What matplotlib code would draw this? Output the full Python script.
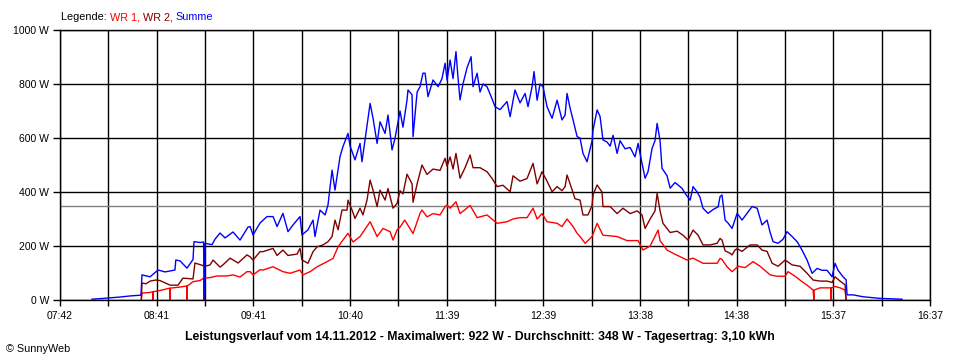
import matplotlib
matplotlib.use('Agg')
import matplotlib.pyplot as plt
import numpy as np

plt.rcParams['font.family'] = ['Liberation Sans', 'DejaVu Sans']

# Zeit in Minuten nach 07:42, Leistung in W
summe_t = [19.7, 24.6, 30.8, 36.9, 43.1, 49.8, 50.4, 55.4, 60.3, 64.6, 70.7, 71.2, 73.8, 78.1, 81.8, 82.4,
           86.1, 88.3, 88.6, 89.2, 93.5, 95.3, 98.4, 101.5, 106.4, 110.7, 115.6, 116.9, 118.7, 123.0, 127.3,
           131.0, 133.5, 137.1, 140.2, 143.3, 147.6, 148.8, 152.5, 155.6, 156.8, 159.9, 163.0, 164.8, 167.3,
           169.1, 170.4, 172.2, 174.0, 177.1, 178.4, 181.4, 184.5, 185.7, 187.6, 190.7, 192.5, 195.0, 196.8,
           199.9, 201.7, 204.2, 206.0, 209.1, 210.9, 213.4, 214.0, 216.5, 217.1, 219.6, 221.4, 223.2, 224.5,
           226.3, 229.4, 232.5, 234.9, 236.8, 238.0, 239.9, 241.7, 243.5, 244.8, 246.0, 247.8, 250.3, 252.8,
           254.0, 256.5, 258.3, 260.1, 262.6, 265.7, 267.5, 270.6, 274.9, 276.8, 279.8, 282.9, 286.0, 287.8,
           290.3, 291.5, 293.4, 295.2, 297.0, 299.5, 302.6, 305.7, 308.7, 310.6, 311.8, 313.7, 315.5, 318.0,
           319.8, 321.6, 324.1, 326.0, 327.2, 327.8, 330.3, 332.1, 333.9, 336.4, 338.3, 340.1, 342.6, 344.4,
           347.5, 350.6, 353.6, 355.5, 357.9, 359.8, 361.6, 364.1, 365.9, 367.2, 369.0, 370.2, 373.3, 375.2,
           378.2, 382.5, 384.4, 387.5, 389.3, 391.8, 393.6, 395.4, 398.5, 401.6, 404.7, 405.9, 407.1, 409.0,
           410.8, 413.3, 416.4, 419.4, 422.5, 425.6, 428.7, 431.7, 434.8, 436.7, 438.5, 441.6, 444.6, 447.1,
           450.2, 453.3, 456.3, 459.4, 462.5, 465.6, 468.6, 471.7, 474.8, 476.6, 478.5, 481.5, 483.4, 484.0,
           487.7, 493.8, 504.3, 517.8]
summe_w = [3, 5, 8, 11, 15, 18, 93, 86, 111, 104, 111, 148, 145, 118, 150, 216,
           213, 215, 0, 210, 205, 225, 248, 230, 252, 222, 270, 272, 241, 285, 309,
           309, 272, 321, 253, 278, 309, 241, 260, 296, 235, 333, 315, 352, 481,
           407, 460, 531, 568, 617, 570, 519, 580, 512, 593, 728, 673, 580, 660,
           617, 685, 556, 599, 700, 640, 741, 778, 760, 605, 770, 790, 840, 840,
           753, 815, 790, 820, 877, 815, 889, 820, 920, 820, 741, 800, 860, 901,
           790, 840, 770, 800, 790, 745, 716, 705, 735, 679, 778, 730, 765, 716,
           790, 846, 740, 800, 790, 716, 673, 740, 667, 685, 765, 710, 667, 605,
           600, 543, 512, 560, 590, 630, 704, 680, 593, 585, 570, 610, 543, 590,
           560, 565, 530, 580, 506, 451, 475, 562, 590, 654, 590, 488, 460, 414,
           435, 414, 395, 370, 420, 400, 380, 340, 321, 335, 345, 383, 389, 296,
           285, 265, 321, 296, 321, 346, 340, 278, 296, 250, 216, 210, 225, 253,
           235, 216, 185, 148, 99, 117, 110, 110, 86, 136, 110, 86, 75, 19,
           19, 12, 6, 3]

wr2_t = [50.0, 50.4, 52.9, 55.4, 59.0, 61.5, 67.7, 72.6, 75.6, 81.8, 83.0, 89.2, 92.3, 94.1, 98.4, 100.2,
         104.6, 109.5, 115.0, 116.9, 118.7, 123.0, 124.8, 131.0, 133.5, 137.1, 140.2, 145.8, 147.6, 148.8,
         152.5, 155.6, 158.1, 161.7, 164.8, 167.3, 169.1, 171.0, 173.4, 176.5, 177.1, 179.6, 181.4, 184.5,
         186.3, 188.8, 190.7, 192.5, 195.0, 196.8, 199.9, 201.7, 204.8, 207.3, 209.1, 210.9, 213.4, 215.3,
         216.5, 217.1, 219.6, 222.6, 225.7, 229.4, 233.7, 236.8, 238.0, 239.9, 241.7, 243.5, 246.0, 249.1,
         252.2, 254.0, 258.3, 262.6, 265.7, 268.8, 272.4, 276.8, 278.6, 282.9, 287.2, 290.9, 293.4, 296.4,
         299.5, 302.6, 305.7, 308.7, 310.6, 311.8, 313.7, 316.7, 319.8, 321.6, 324.7, 327.2, 327.8, 330.3,
         333.3, 333.9, 338.3, 342.6, 346.2, 350.6, 354.9, 357.9, 359.8, 362.9, 365.9, 367.2, 369.0, 370.8,
         375.2, 379.5, 383.1, 386.2, 389.3, 392.4, 395.4, 399.8, 404.1, 405.9, 407.1, 409.0, 412.1, 413.3,
         415.1, 416.4, 419.4, 424.4, 428.7, 431.7, 434.8, 437.9, 441.6, 445.9, 450.2, 455.1, 459.4, 463.1,
         467.4, 471.7, 474.8, 476.6, 479.7, 482.8, 483.4]
wr2_w = [0, 63, 60, 70, 74, 72, 55, 55, 81, 78, 137, 125, 130, 148, 122, 130,
         155, 137, 167, 160, 148, 179, 179, 191, 165, 185, 165, 170, 191, 148,
         136, 179, 197, 204, 216, 235, 296, 260, 333, 333, 370, 333, 302, 340,
         315, 370, 444, 407, 346, 407, 370, 413, 340, 358, 405, 393, 466, 444,
         430, 362, 430, 500, 465, 485, 480, 525, 495, 530, 485, 543, 451, 490,
         537, 490, 490, 475, 450, 420, 425, 401, 460, 440, 450, 506, 430, 475,
         440, 401, 420, 405, 420, 463, 430, 375, 370, 315, 315, 350, 390, 426,
         400, 346, 346, 320, 340, 320, 330, 315, 265, 300, 330, 395, 330, 284,
         250, 255, 240, 222, 259, 240, 204, 204, 210, 228, 222, 182, 173, 167,
         185, 190, 180, 204, 204, 185, 180, 136, 125, 148, 130, 125, 99, 74,
         70, 70, 65, 86, 70, 56, 0]

wr1_t = [50.0, 50.4, 55.4, 57.0, 57.2, 57.4, 61.5, 67.5, 67.7, 67.9, 73.8, 77.9, 78.1, 78.3, 81.8, 86.1,
         88.4, 88.6, 88.8, 92.3, 96.6, 102.7, 106.4, 110.7, 115.0, 116.9, 118.7, 123.0, 124.8, 131.0, 137.1,
         141.5, 147.6, 149.4, 153.8, 158.1, 164.2, 167.9, 171.0, 174.0, 177.1, 180.2, 184.5, 190.7, 195.0,
         198.6, 203.0, 204.8, 207.3, 209.1, 212.0, 217.1, 221.4, 222.6, 225.7, 229.4, 233.7, 236.8, 238.0,
         239.9, 243.5, 246.0, 252.2, 256.5, 262.6, 268.8, 274.9, 278.6, 282.9, 287.2, 290.9, 293.4, 296.4,
         299.5, 305.7, 308.7, 311.8, 315.5, 318.0, 319.8, 322.9, 327.2, 330.3, 333.9, 342.6, 348.7, 355.5,
         358.5, 362.9, 367.8, 369.0, 373.3, 377.0, 385.6, 389.3, 395.4, 404.1, 405.9, 407.1, 410.2, 413.3,
         417.0, 421.3, 426.2, 430.5, 436.7, 441.0, 445.9, 447.7, 452.0, 456.3, 459.4, 463.1, 463.6, 463.8,
         467.4, 474.0, 474.2, 474.4, 476.6, 479.7, 482.8, 483.4]
wr1_w = [0, 26, 28, 31, 0, 31, 35, 44, 0, 44, 48, 52, 0, 52, 68, 72,
         81, 0, 81, 83, 89, 89, 93, 85, 105, 105, 93, 112, 111, 123, 105,
         99, 111, 93, 105, 123, 142, 154, 197, 222, 247, 215, 235, 290, 235,
         265, 253, 222, 260, 270, 296, 246, 321, 333, 308, 320, 315, 346, 352,
         340, 364, 320, 350, 305, 315, 284, 290, 300, 305, 305, 340, 300, 320,
         290, 284, 272, 300, 272, 247, 235, 210, 235, 284, 240, 235, 220, 220,
         185, 200, 259, 220, 185, 173, 148, 155, 136, 136, 154, 150, 123, 105,
         125, 120, 142, 125, 93, 88, 88, 105, 88, 68, 55, 37, 0, 37,
         45, 45, 0, 45, 50, 45, 37, 0]

zeit_labels = ['07:42', '08:41', '09:41', '10:40', '11:39', '12:39', '13:38', '14:38', '15:37', '16:37']
durchschnitt = 348

fig = plt.figure(figsize=(9.6, 3.6), dpi=100)
ax = fig.add_axes([60 / 960, 60 / 360, 870 / 960, 270 / 360])

ax.plot(wr1_t, wr1_w, color='#ff0000', lw=1)
ax.plot(wr2_t, wr2_w, color='#800000', lw=1)
ax.plot(summe_t, summe_w, color='#0000ff', lw=1)
ax.axhline(durchschnitt, color='#808080', lw=1, zorder=1)

ax.set_xlim(0, 535)
ax.set_ylim(0, 1000)
ax.set_yticks(range(0, 1001, 200))
ax.set_yticklabels([f'{v} W' for v in range(0, 1001, 200)])
ticks = np.linspace(0, 535, 19)
labels = []
for i in range(19):
    labels.append(zeit_labels[i // 2] if i % 2 == 0 else '')
ax.set_xticks(ticks)
ax.set_xticklabels(labels)
ax.set_axisbelow(True)
ax.grid(color='black', lw=1)
for s in ax.spines.values():
    s.set_linewidth(1)
ax.tick_params(axis='y', direction='out', length=5, width=1, pad=3, labelsize=7.5)
ax.tick_params(axis='x', direction='out', length=4, width=1, pad=4, labelsize=7.5)

# Legende oben links, mehrfarbig
renderer = fig.canvas.get_renderer()
x = 61
for s, c in [('Legende: ', 'black'), ('WR 1, ', '#ff0000'), ('WR 2, ', '#800000'), ('Summe', '#0000ff')]:
    t = fig.text(x / 960, 1 - 17 / 360, s, color=c, fontsize=7.8, va='center', ha='left')
    x += t.get_window_extent(renderer).width

fig.text(0.5, 1 - 337 / 360,
         'Leistungsverlauf vom 14.11.2012 - Maximalwert: 922 W - Durchschnitt: 348 W - Tagesertrag: 3,10 kWh',
         ha='center', va='center', fontsize=8.8, fontweight='bold')
fig.text(6 / 960, 1 - 349 / 360, '\u00a9 SunnyWeb', ha='left', va='center', fontsize=7.8)

fig.savefig('out.png', dpi=100)
